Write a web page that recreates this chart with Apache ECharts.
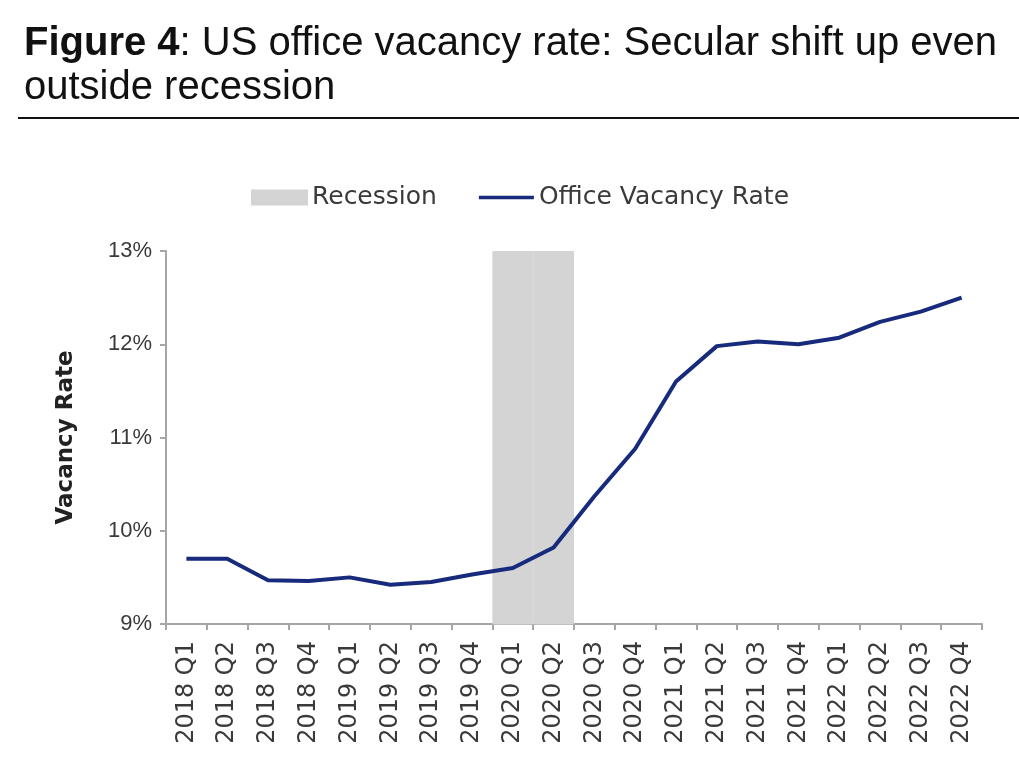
<!DOCTYPE html>
<html>
<head>
<meta charset="utf-8">
<script src="https://cdn.jsdelivr.net/npm/echarts@6/dist/echarts.min.js"></script>
<style>
  html, body { margin: 0; padding: 0; background: #fff; }
  #chart { width: 1019px; height: 768px; }
</style>
</head>
<body>
<div id="chart"></div>
<script>
const quarters = [
  '2018 Q1', '2018 Q2', '2018 Q3', '2018 Q4',
  '2019 Q1', '2019 Q2', '2019 Q3', '2019 Q4',
  '2020 Q1', '2020 Q2', '2020 Q3', '2020 Q4',
  '2021 Q1', '2021 Q2', '2021 Q3', '2021 Q4',
  '2022 Q1', '2022 Q2', '2022 Q3', '2022 Q4'
];
const vacancyRate = [
  9.70, 9.70, 9.47, 9.46,
  9.50, 9.42, 9.45, 9.53,
  9.60, 9.82, 10.37, 10.88,
  11.60, 11.98, 12.03, 12.00,
  12.07, 12.24, 12.35, 12.50
];
// recession quarters shaded up to the top of the axis
const recession = [
  null, null, null, null,
  null, null, null, null,
  13, 13, null, null,
  null, null, null, null,
  null, null, null, null
];
const yTicks = [9, 10, 11, 12, 13];

const chart = echarts.init(document.getElementById('chart'));

const axisGrey = '#a6a6a6';
const labelColor = '#3a3a3a';
const lineBlue = '#172a7c';

chart.setOption({
  animation: false,
  title: {
    left: 19,
    top: 17,
    text: '{b|Figure 4}: US office vacancy rate: Secular shift up even\noutside recession',
    textStyle: {
      fontFamily: 'Liberation Sans, Arial, sans-serif',
      fontSize: 40,
      fontWeight: 'normal',
      color: '#111',
      lineHeight: 44,
      rich: {
        b: {
          fontFamily: 'Liberation Sans, Arial, sans-serif',
          fontSize: 40,
          fontWeight: 'bold',
          color: '#111',
          lineHeight: 44
        }
      }
    }
  },
  graphic: [{
    type: 'line',
    shape: { x1: 18, y1: 118, x2: 1019, y2: 118 },
    style: { stroke: '#111', lineWidth: 2 }
  }],
  legend: {
    top: 180,
    left: 246,
    itemWidth: 55,
    itemHeight: 14,
    itemGap: 42,
    textStyle: {
      fontFamily: 'DejaVu Sans, sans-serif',
      fontSize: 25,
      color: labelColor
    },
    data: [
      { name: 'Recession', icon: 'rect' },
      { name: 'Office Vacancy Rate', icon: 'path://M0 0H60V4H0Z' }
    ]
  },
  grid: {
    left: 166,
    right: 37,
    top: 251,
    bottom: 144
  },
  xAxis: {
    type: 'category',
    data: quarters,
    boundaryGap: true,
    axisLine: { lineStyle: { color: axisGrey, width: 2 } },
    axisTick: { show: true, length: 6, lineStyle: { color: axisGrey, width: 2 } },
    axisLabel: {
      rotate: 90,
      interval: 0,
      margin: 17,
      fontFamily: 'DejaVu Sans, sans-serif',
      fontSize: 24,
      color: labelColor
    }
  },
  yAxis: {
    type: 'value',
    min: yTicks[0],
    max: yTicks[yTicks.length - 1],
    interval: 1,
    name: 'Vacancy Rate',
    nameLocation: 'middle',
    nameRotate: 90,
    nameGap: 88,
    nameTextStyle: {
      fontFamily: 'DejaVu Sans, sans-serif',
      fontSize: 23,
      fontWeight: 'bold',
      color: '#222'
    },
    splitLine: { show: false },
    axisLine: { show: true, lineStyle: { color: axisGrey, width: 2 } },
    axisTick: { show: true, length: 6, lineStyle: { color: axisGrey, width: 2 } },
    axisLabel: {
      margin: 14,
      fontFamily: 'Liberation Sans, Arial, sans-serif',
      fontSize: 22,
      color: labelColor,
      formatter: v => v + '%'
    }
  },
  series: [
    {
      name: 'Recession',
      type: 'bar',
      data: recession,
      barWidth: '100%',
      barGap: '-100%',
      itemStyle: { color: '#d4d4d4', borderColor: '#d4d4d4', borderWidth: 1 },
      silent: true,
      z: 1
    },
    {
      name: 'Office Vacancy Rate',
      type: 'line',
      data: vacancyRate,
      symbol: 'none',
      lineStyle: { color: lineBlue, width: 4 },
      itemStyle: { color: lineBlue },
      z: 3
    }
  ]
});
</script>
</body>
</html>
